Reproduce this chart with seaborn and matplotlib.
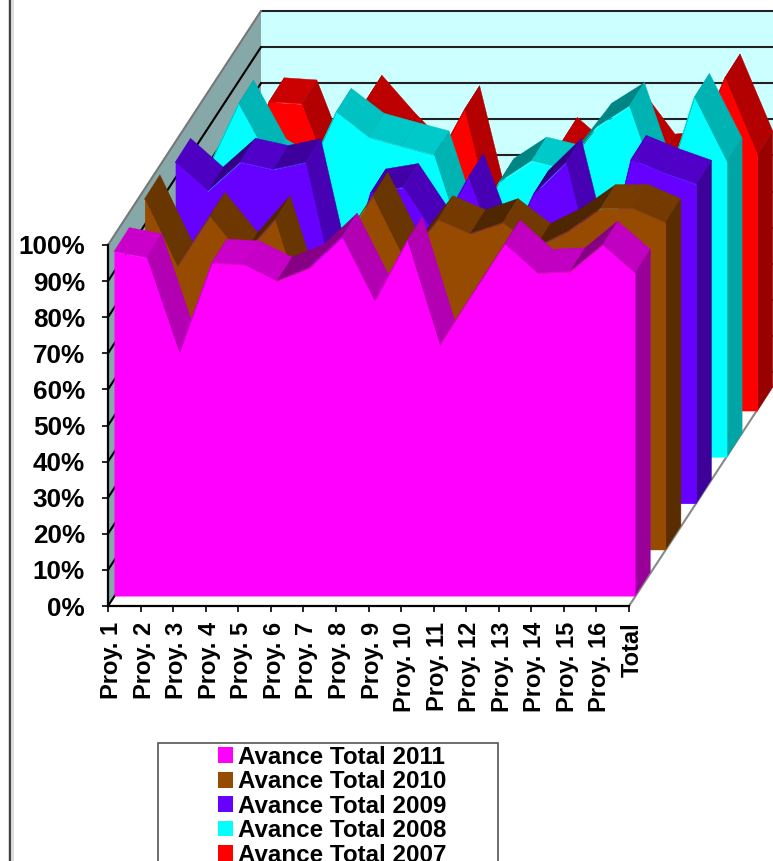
"""
Avance Total chart, 3D area look drawn with an oblique projection on 2D axes.
"""
import matplotlib
matplotlib.use("Agg")
import matplotlib.pyplot as plt
from matplotlib.lines import Line2D
from matplotlib.patches import Patch, Rectangle
from matplotlib.transforms import ScaledTranslation
import numpy as np
import pandas as pd
import seaborn as sns

projects = ["Proy. 1", "Proy. 2", "Proy. 3", "Proy. 4", "Proy. 5", "Proy. 6",
            "Proy. 7", "Proy. 8", "Proy. 9", "Proy. 10", "Proy. 11", "Proy. 12",
            "Proy. 13", "Proy. 14", "Proy. 15", "Proy. 16", "Total"]

avance_2011 = [95.4, 93.7, 67.3, 92.2, 91.7, 87.2, 90.9, 99.4, 81.7, 98.4, 69.5,
               83.6, 97.5, 89.4, 89.8, 97.2, 89.4]
avance_2010 = [97.2, 78.5, 92.3, 81.2, 91.4, 62.8, 84.0, 97.9, 79.8, 91.4, 87.5,
               90.6, 83.7, 88.2, 94.5, 94.5, 90.6]
avance_2009 = [94.5, 86.5, 94.5, 92.5, 94.4, 55.0, 86.0, 87.5, 74.0, 90.3, 66.0,
               85.6, 94.4, 58.0, 95.3, 91.6, 88.4]
avance_2008 = [78.7, 97.8, 81.4, 75.9, 95.5, 88.6, 86.1, 83.7, 56.0, 76.1, 82.0,
               79.8, 91.4, 97.1, 71.0, 99.6, 81.7]
avance_2007 = [60.0, 85.6, 85.0, 62.0, 86.3, 76.0, 66.7, 83.4, 46.8, 50.0, 74.6,
               66.8, 82.0, 70.0, 71.0, 92.2, 70.9]

series_names = ["Avance Total 2011", "Avance Total 2010", "Avance Total 2009",
                "Avance Total 2008", "Avance Total 2007"]
series_colors = ["#FF00FF", "#964B00", "#6600FF", "#00FFFF", "#FF0000"]
pct_ticks = list(range(0, 101, 10))

W, H = 773, 861
AX_L, AX_R, AX_B, AX_T = 108, 629, 606, 245   # plot box in pixels
X_PX = (AX_R - AX_L) / 16
Y_PX = (AX_B - AX_T) / 100

data = pd.DataFrame({"project": projects, series_names[0]: avance_2011,
                     series_names[1]: avance_2010, series_names[2]: avance_2009,
                     series_names[3]: avance_2008, series_names[4]: avance_2007})

sns.set_theme(style="white")
plt.rcParams["font.family"] = ["Liberation Sans", "DejaVu Sans"]
plt.rcParams["font.weight"] = "bold"

fig = plt.figure(figsize=(W / 100, H / 100), dpi=100, facecolor="white")
ax = fig.add_axes([AX_L / W, 1 - AX_B / H, (AX_R - AX_L) / W, (AX_B - AX_T) / H])
ax.patch.set_alpha(0)


def shifted(x, y, px_right, px_up):
    """move data coords by a depth offset given in pixels"""
    return np.asarray(x, float) + px_right / X_PX, np.asarray(y, float) + px_up / Y_PX


def shade(color, factor):
    rgb = np.array(matplotlib.colors.to_rgb(color))
    return tuple(rgb * factor)


def segment_shade(slope):
    # slope in pixels, positive = rising to the right
    if slope > 0:
        return max(0.52, 0.8 - 0.9 * slope)
    return max(0.7, 0.8 + 0.05 * slope)


#================================
#WALLS AND GRID
#================================
DEPTH = (153, 234)
wx, wy = shifted([0, 16, 16, 0], [0, 0, 100, 100], *DEPTH)
ax.fill(wx, wy, color="#CCFFFF", zorder=0.2, clip_on=False, lw=0)
sx, sy = shifted([0, 0], [0, 100], *DEPTH)
ax.fill([0, sx[0], sx[1], 0], [0, sy[0], sy[1], 100], color="#87A8A8", zorder=0.3,
        clip_on=False, lw=0)

for p in pct_ticks:
    bx, by = shifted([0, 16], [p, p], *DEPTH)
    top = p == 100
    ax.plot(bx, by, color="#222222", lw=1.5, zorder=0.4, clip_on=False)
    ax.plot([0, bx[0]], [p, by[0]], color="#777777" if top else "black",
            lw=1.5, zorder=0.4, clip_on=False)
    if p == 0:
        ax.plot([16, bx[1]], [0, by[1]], color="#888888", lw=1.5, zorder=0.4, clip_on=False)

#================================
#SERIES, BACK TO FRONT
#================================
x_pos = np.arange(len(projects))
z = 1.0
for k in range(len(series_names) - 1, -1, -1):
    name, color = series_names[k], series_colors[k]
    values = data[name].to_numpy()
    fx, fy = shifted(x_pos, values, 6 + 30.6 * k, 10 + 46.3 * k)
    bx, by = shifted(fx, fy, 15.3, 24)
    _, base_front = shifted(x_pos, np.zeros(len(x_pos)), 0, 10 + 46.3 * k)
    _, base_back = shifted(x_pos, base_front, 0, 24)

    # top faces of the band
    for i in range(len(x_pos) - 1):
        slope = (fy[i + 1] - fy[i]) * Y_PX / X_PX
        c = shade(color, segment_shade(slope))
        ax.fill([fx[i], fx[i + 1], bx[i + 1], bx[i]], [fy[i], fy[i + 1], by[i + 1], by[i]],
                color=c, lw=0.3, zorder=z, clip_on=False)

    # right end of the band
    ax.fill([fx[-1], bx[-1], bx[-1], fx[-1]], [base_front[-1], base_back[-1], by[-1], fy[-1]],
            color=shade(color, 0.6 if k != 3 else 0.65), lw=0.3, zorder=z, clip_on=False)

    # front face
    ax.fill_between(fx, base_front, fy, color=color, lw=0, zorder=z + 0.1, clip_on=False)
    line = sns.lineplot(x=fx, y=fy, color=color, ax=ax, lw=0.4, sort=False, estimator=None,
                        zorder=z + 0.2, clip_on=False)
    z += 1

#================================
#AXES
#================================
ax.set_xlim(0, 16)
ax.set_ylim(0, 100)
ax.set_xticks(x_pos)
ax.set_xticklabels(projects, rotation=90, fontsize=17, fontweight="bold", color="black")
ax.set_yticks(pct_ticks)
ax.set_yticklabels([f"{p}%" for p in pct_ticks], fontsize=18.8, fontweight="bold", color="black")
ax.tick_params(axis="x", length=4.5, width=1.2, color="black", pad=7, bottom=True)
ax.tick_params(axis="y", length=4.5, width=1.2, color="black", pad=12, left=True)
nudge = ScaledTranslation(3.5 / 100, 0, fig.dpi_scale_trans)
for lab in ax.get_xticklabels():
    lab.set_transform(lab.get_transform() + nudge)
ax.set_xlabel("")
ax.set_ylabel("")
for side in ["top", "right"]:
    ax.spines[side].set_visible(False)
for side in ["left", "bottom"]:
    ax.spines[side].set_color("black")
    ax.spines[side].set_linewidth(1.6)
    ax.spines[side].set_zorder(20)

#================================
#LEGEND AND FRAME
#================================
fig.add_artist(Rectangle((158 / W, 1 - 900 / H), 340 / W, 157 / H, transform=fig.transFigure,
                         facecolor="white", edgecolor="#555555", lw=1.2))
handles = [Patch(facecolor=c, edgecolor="none") for c in series_colors]
fig.legend(handles, series_names, loc="upper left",
           bbox_to_anchor=(196 / W, 1 - 724 / H), frameon=False, ncol=1,
           prop={"size": 17.4, "weight": "bold", "family": "Liberation Sans"},
           handlelength=0.62, handleheight=0.62, handletextpad=0.2, labelspacing=0.06,
           labelcolor="black")

fig.add_artist(Rectangle((0.010, 0), 0.008, 1, transform=fig.transFigure, facecolor="#DDDDDD", lw=0))
fig.add_artist(Line2D([10 / W, 10 / W], [0, 1], transform=fig.transFigure, color="#444444", lw=1.5))

fig.savefig("out.png", dpi=100)
plt.close(fig)
